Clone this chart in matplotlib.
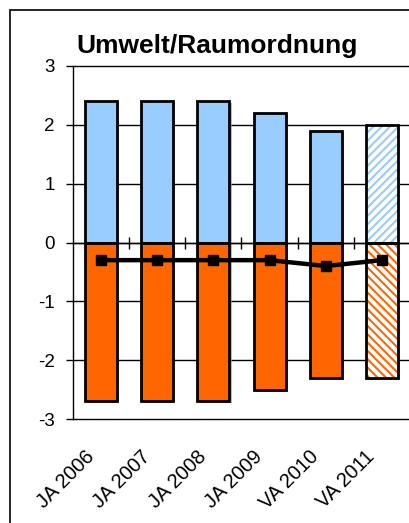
import numpy as np
import matplotlib.pyplot as plt
from matplotlib.patches import Rectangle
from matplotlib.transforms import offset_copy
import matplotlib.patheffects as pe

# Data
labels = ["JA 2006", "JA 2007", "JA 2008", "JA 2009", "VA 2010", "VA 2011"]
positive = [2.4, 2.4, 2.4, 2.2, 1.9, 2.0]
negative = [-2.7, -2.7, -2.7, -2.5, -2.3, -2.3]
balance = [-0.3, -0.3, -0.3, -0.3, -0.4, -0.3]
forecast = [False, False, False, False, False, True]  # hatched bars

blue = "#99CCFF"
orange = "#FF6600"

plt.rcParams['font.family'] = ['Liberation Sans', 'DejaVu Sans']
plt.rcParams['hatch.linewidth'] = 1.5
plt.rcParams['axes.unicode_minus'] = False

W, H = 410, 523
fig = plt.figure(figsize=(W / 100, H / 100), dpi=100)
ax = fig.add_axes([73 / W, 1 - 419 / H, 337 / W, 353 / H])

x = np.arange(len(labels))
bw = 0.57
shadow = [pe.SimplePatchShadow(offset=(1.5, -1.5), shadow_rgbFace="0.55", alpha=0.6), pe.Normal()]

for xi, p, n, f in zip(x, positive, negative, forecast):
    for val, col, hatch in ((p, blue, "////"), (n, orange, "\\\\\\\\")):
        if f:
            ax.bar(xi, val, bw, color="white", edgecolor=col, hatch=hatch, linewidth=0, zorder=2,
                   path_effects=shadow)
            ax.bar(xi, val, bw, fill=False, edgecolor="black", linewidth=2, zorder=2.5)
        else:
            ax.bar(xi, val, bw, color=col, edgecolor="black", linewidth=2, zorder=2,
                   path_effects=shadow)

ax.plot(x, balance, color="black", linewidth=3.2, marker="s", markersize=7.5, zorder=4)

# zero line with crossing tick marks between categories
ax.axhline(0, color="black", linewidth=1, zorder=3)
bounds = np.arange(len(labels)) + 0.5
ax.plot(bounds, np.zeros_like(bounds), linestyle="none", marker="|", markersize=8,
        markeredgewidth=1, color="black", zorder=3, clip_on=False)

ax.set_xlim(-0.5, len(labels) - 0.5)
ax.set_ylim(-3, 3)
ax.set_yticks(np.arange(-3, 4))
ax.yaxis.grid(True, color="black", linewidth=1)
for gl in ax.get_ygridlines():
    gl.set_clip_on(False)
ax.set_axisbelow(True)
ax.tick_params(axis="y", direction="out", length=5, width=1, labelsize=13.5, pad=8)
ax.set_xticks([])
for s in ["top", "right", "bottom"]:
    ax.spines[s].set_visible(False)
ax.spines["left"].set_linewidth(1)

trans = offset_copy(ax.transData, fig=fig, x=-10, y=-35, units="dots")
for xi, lab in zip(x, labels):
    ax.text(xi, -3, lab, rotation=45, rotation_mode="anchor", ha="right", va="center",
            fontsize=14.5, transform=trans, clip_on=False)

fig.text(76 / W, 1 - 53 / H, "Umwelt/Raumordnung", fontsize=19, fontweight="bold",
         ha="left", va="baseline")

# outer chart frame (clipped at right and bottom)
fig.add_artist(Rectangle((10 / W, -0.1), 1.2, 1 - 10 / H + 0.1, transform=fig.transFigure,
                         fill=False, edgecolor="black", linewidth=1.2))

fig.savefig("out.png", dpi=100)
